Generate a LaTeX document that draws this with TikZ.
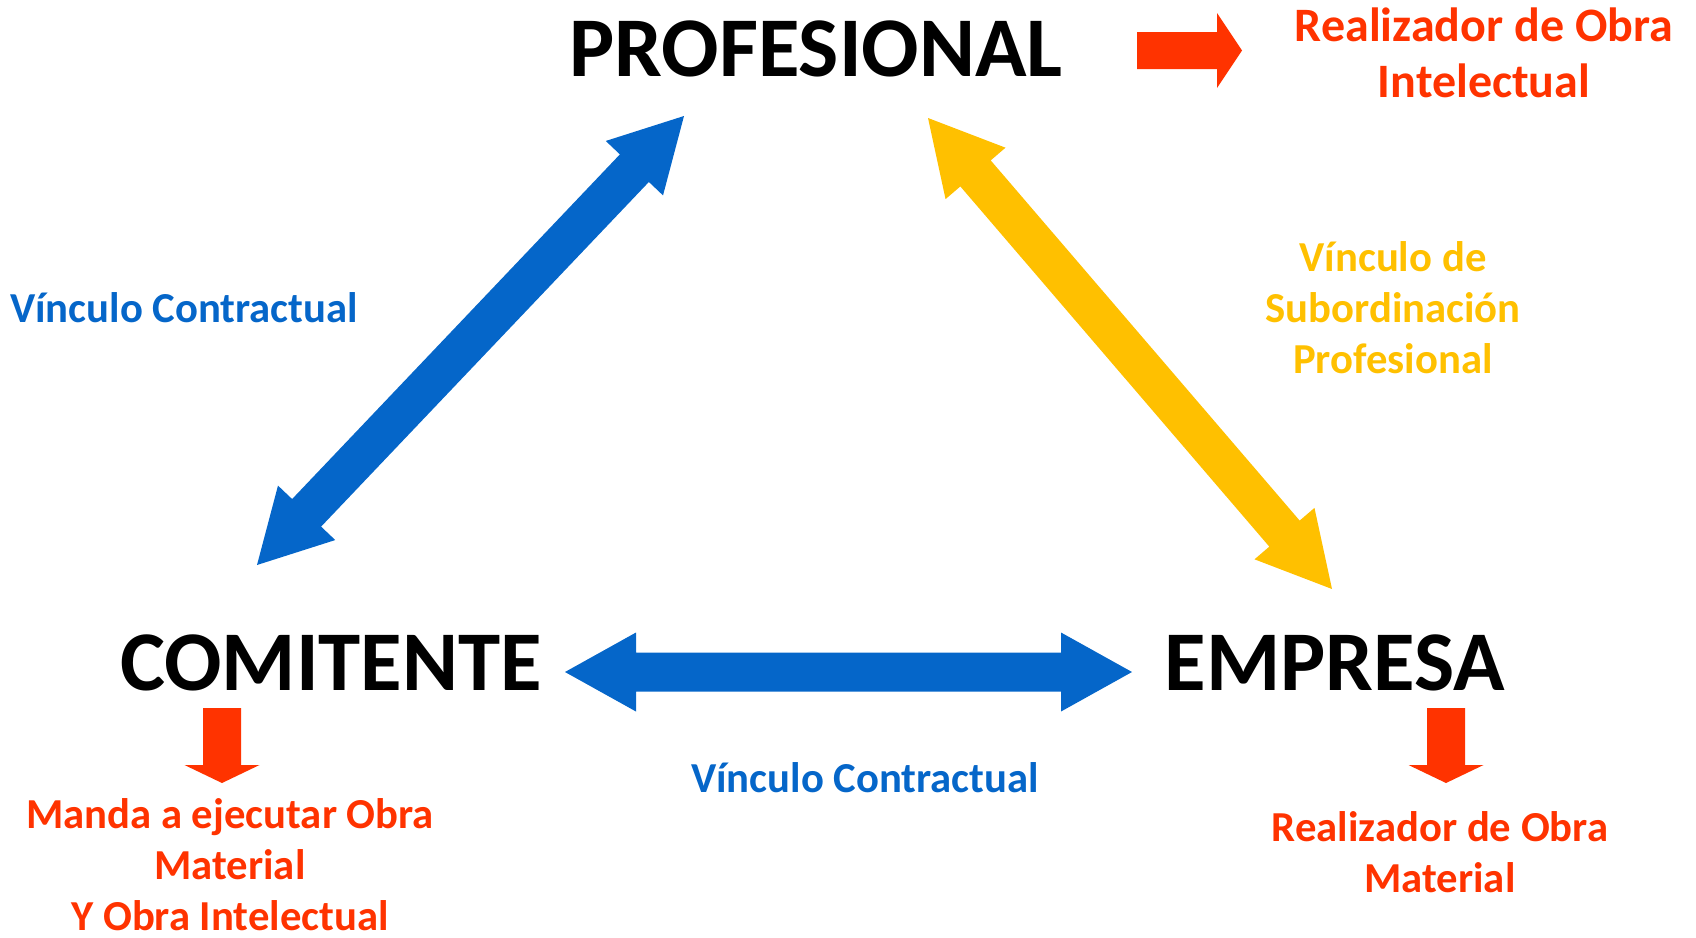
\documentclass[tikz,border=0pt]{standalone}
\usepackage{fontspec}
\setmainfont{Carlito}
\usetikzlibrary{calc}
\definecolor{cblue}{HTML}{0566C9}
\definecolor{cyellow}{HTML}{FFC000}
\definecolor{cred}{HTML}{FF3300}
% double arrow: #1 tip, #2 tip, #3 shaft half width, #4 head length, #5 head half width, #6 colour
\newcommand\dblarrow[6]{%
  \fill[#6] (#1)
    -- ($(#1)!#4!(#2)!#5!90:(#2)$)
    -- ($(#1)!#4!(#2)!#3!90:(#2)$)
    -- ($(#2)!#4!(#1)!#3!-90:(#1)$)
    -- ($(#2)!#4!(#1)!#5!-90:(#1)$)
    -- (#2)
    -- ($(#2)!#4!(#1)!#5!90:(#1)$)
    -- ($(#2)!#4!(#1)!#3!90:(#1)$)
    -- ($(#1)!#4!(#2)!#3!-90:(#2)$)
    -- ($(#1)!#4!(#2)!#5!-90:(#2)$)
    -- cycle;}
% single arrow: #1 tail centre, #2 tip, #3 shaft half width, #4 head length, #5 head half width, #6 colour
\newcommand\sglarrow[6]{%
  \fill[#6] ($(#1)!#3!90:(#2)$)
    -- ($(#2)!#4!(#1)!#3!-90:(#1)$)
    -- ($(#2)!#4!(#1)!#5!-90:(#1)$)
    -- (#2)
    -- ($(#2)!#4!(#1)!#5!90:(#1)$)
    -- ($(#2)!#4!(#1)!#3!90:(#1)$)
    -- ($(#1)!#3!-90:(#2)$)
    -- cycle;}
\begin{document}
\begin{tikzpicture}[x=1pt,y=-1pt,
  maintext/.style={font=\fontsize{85}{100}\selectfont\bfseries, inner sep=0pt, anchor=base},
  lbl/.style={font=\fontsize{42.7}{51}\selectfont\bfseries, inner sep=0pt, align=center, anchor=base},
  biglbl/.style={lbl, font=\fontsize{48}{56}\selectfont\bfseries}]
\useasboundingbox (0,0) rectangle (1696,937);
% main nodes
\node[maintext] (prof) at (816,76) {PROFESIONAL};
\node[maintext] (comit) at (331,690) {COMITENTE};
\node[maintext] (emp) at (1335,690) {EMPRESA};
% arrow end points
\coordinate (bT) at (684,116);
\coordinate (bB) at (257,565);
\coordinate (yT) at (928,118);
\coordinate (yB) at (1332,589);
\coordinate (hL) at (565,672);
\coordinate (hR) at (1132,672);
\coordinate (rT) at (1137,50.5);
\coordinate (rH) at (1242,50.5);
\coordinate (dLT) at (222,708);
\coordinate (dLH) at (222,783);
\coordinate (dRT) at (1446,708);
\coordinate (dRH) at (1446,783);
% arrows
\dblarrow{bT}{bB}{20pt}{72pt}{39.5pt}{cblue}
\dblarrow{yT}{yB}{20pt}{73pt}{39.5pt}{cyellow}
\dblarrow{hL}{hR}{19.5pt}{71pt}{39.5pt}{cblue}
\sglarrow{rT}{rH}{18.5pt}{25pt}{37.5pt}{cred}
\sglarrow{dLT}{dLH}{19pt}{18pt}{37.5pt}{cred}
\sglarrow{dRT}{dRH}{19pt}{18pt}{37.5pt}{cred}
% labels (anchor = baseline of the last line)
\node[lbl, text=cblue] (l1) at (184,322) {Vínculo Contractual};
\node[lbl, text=cyellow] (l2) at (1393,373) {Vínculo de\\Subordinación\\Profesional};
\node[biglbl, text=cred] (l3) at (1484,97) {Realizador de Obra\\Intelectual};
\node[lbl, text=cblue] (l4) at (865,792) {Vínculo Contractual};
\node[lbl, text=cred] (l5) at (230,930) {Manda a ejecutar Obra\\Material\\Y Obra Intelectual};
\node[lbl, text=cred] (l6) at (1440,892) {Realizador de Obra\\Material};
\end{tikzpicture}
\end{document}
